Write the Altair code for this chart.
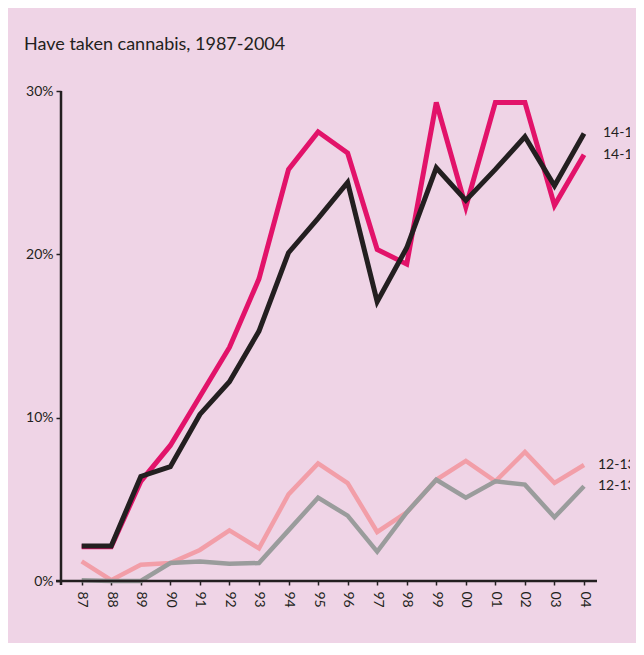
import altair as alt
import pandas as pd

# ---- data ----
years = list(range(1987, 2005))
series_names = ["12-13 light", "12-13 grey", "14-15 magenta", "14-15 black"]
light_12_13 = [1.2, 0.05, 1.0, 1.1, 1.9, 3.1, 2.0, 5.3, 7.2, 6.0, 3.0, 4.2, 6.2, 7.35, 6.1, 7.9, 6.0, 7.1]
grey_12_13 = [0.05, 0.0, 0.0, 1.1, 1.2, 1.05, 1.1, 3.1, 5.1, 4.0, 1.8, 4.2, 6.2, 5.1, 6.1, 5.9, 3.9, 5.8]
magenta_14_15 = [2.1, 2.1, 6.1, 8.3, 11.3, 14.3, 18.5, 25.2, 27.5, 26.2, 20.3, 19.4, 29.3, 22.9, 29.3, 29.3, 23.0, 26.1]
black_14_15 = [2.15, 2.15, 6.4, 7.0, 10.2, 12.2, 15.3, 20.1, 22.2, 24.4, 17.1, 20.4, 25.3, 23.3, 25.2, 27.2, 24.2, 27.4]
series_values = [light_12_13, grey_12_13, magenta_14_15, black_14_15]
series_colors = ["#f29ea8", "#9a9c9c", "#e2136a", "#231f20"]
series_widths = [4.5, 4.5, 5, 5]

label_texts = ["14-15", "14-15", "12-13", "12-13"]
label_values = [black_14_15[-1], magenta_14_15[-1], light_12_13[-1], grey_12_13[-1]]
label_x = [542, 542, 537, 537]

y_ticks = [0, 10, 20, 30]
title_text = "Have taken cannabis, 1987-2004"

BG = "#efd4e6"
INK = "#231f20"
FONT = "Lato"

xscale = alt.Scale(domain=[1986.30, 2005.556], nice=False, zero=False)
yscale = alt.Scale(domain=[0, 30], nice=False)

xaxis = alt.Axis(values=years, format="d", labelExpr="substring(datum.label, 2)",
                 labelAngle=90, labelAlign="left", labelBaseline="middle",
                 tickSize=4, tickWidth=1.5, tickColor=INK, labelPadding=6,
                 domain=False, grid=False, title=None, labelFont=FONT,
                 labelFontSize=14, labelColor=INK)
yaxis = alt.Axis(values=y_ticks, labelExpr="datum.value + '%'", tickSize=5,
                 tickWidth=1.5, tickColor=INK, labelPadding=3, domain=False,
                 grid=False, title=None, labelFont=FONT, labelFontSize=14,
                 labelColor=INK)

layers = []
for i, (name, vals) in enumerate(zip(series_names, series_values)):
    df = pd.DataFrame({"year": years, "value": vals, "series": name})
    layers.append(
        alt.Chart(df).mark_line(color=series_colors[i], strokeWidth=series_widths[i],
                                strokeJoin="miter", strokeCap="butt").encode(
            x=alt.X("year:Q", scale=xscale, axis=xaxis),
            y=alt.Y("value:Q", scale=yscale, axis=yaxis),
        )
    )

dummy = pd.DataFrame({"v": [0]})
xline = alt.Chart(dummy).mark_rule(color=INK, strokeWidth=2.5).encode(
    x=alt.value(-5), x2=alt.value(536), y=alt.value(490))
yline = alt.Chart(dummy).mark_rule(color=INK, strokeWidth=2.5).encode(
    x=alt.value(0), y=alt.value(0), y2=alt.value(494))
layers += [xline, yline]

for t, v, px in zip(label_texts, label_values, label_x):
    ldf = pd.DataFrame({"label": [t], "value": [v]})
    layers.append(
        alt.Chart(ldf).mark_text(clip=True, align="left", baseline="middle",
                                 font=FONT, fontSize=14, color=INK).encode(
            x=alt.value(px), y=alt.Y("value:Q", scale=yscale, axis=yaxis),
            text="label:N")
    )

chart = alt.layer(*layers).properties(
    width=569, height=490,
    autosize=alt.AutoSizeParams(type="none"),
    padding={"left": 53, "top": 83, "right": 6, "bottom": 62},
    title=alt.TitleParams(text=title_text, anchor="start", frame="group", dx=-37,
                          font=FONT, fontSize=18, fontWeight="normal", color=INK,
                          baseline="alphabetic", offset=16),
    background=BG,
).configure_view(stroke=None)

chart.save("out.html", embed_options={"renderer": "svg", "actions": False})
